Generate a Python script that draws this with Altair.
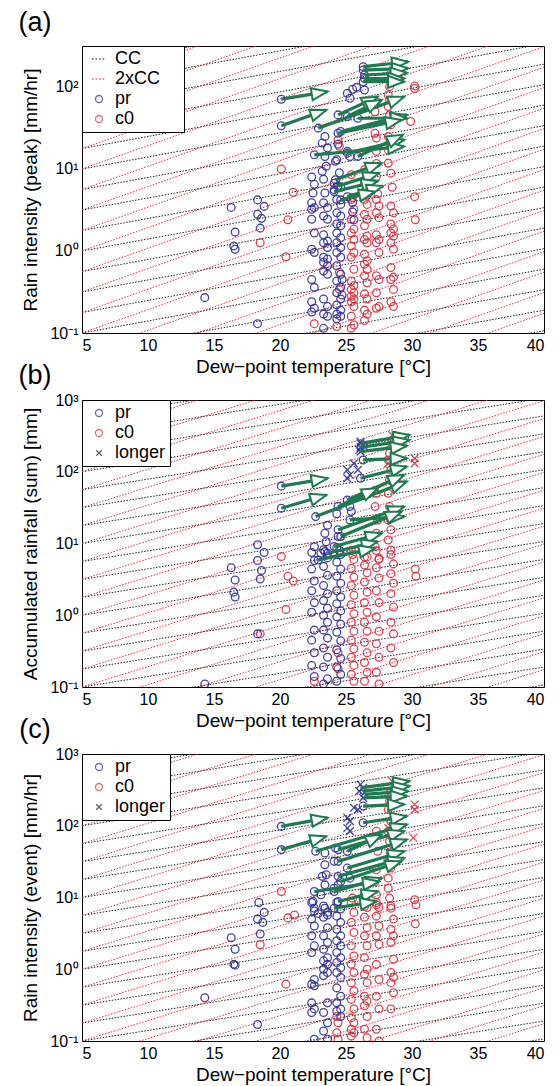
import altair as alt
import pandas as pd

FONT = "Liberation Sans"
BLUE = "#2f2f9c"
RED = "#dc2f40"
GREEN = "#1e7b4f"
BLACK = "#222222"
W, H = 462, 287

X_DOMAIN = [5, 40]
X_TICKS = [5, 10, 15, 20, 25, 30, 35, 40]
A_Y_DOMAIN = [0.1, 316.2]
BC_Y_DOMAIN = [0.1, 1000]
A_Y_TICKS = [0.1, 1, 10, 100]
BC_Y_TICKS = [0.1, 1, 10, 100, 1000]

# Clausius-Clapeyron reference lines: growth per degC, starting every 1/4 decade at 5 degC
CC_RATE = 0.07
CC2_RATE = 0.14
LINE_STEP = 0.25

# ---------------- panel (a): peak intensity ----------------
A_PR = [(14.3, 0.27), (16.3, 3.4), (16.6, 1.7), (16.5, 1.15), (16.6, 1.05), (18.3, 4.2), (18.8, 3.5),
        (18.3, 2.8), (18.6, 2.5), (18.5, 1.9), (18.3, 0.13), (20.1, 71), (20.1, 33.6),
        (26.3, 177), (26.3, 161), (26.4, 140), (26.4, 127), (26.3, 116), (25.1, 84), (25.3, 73),
        (25.5, 94), (25.8, 99), (26.4, 92), (24.4, 45.7), (25.1, 43.6), (22.9, 31.5), (24.6, 28.7),
        (25.9, 41.6), (24.4, 27.3), (23.4, 24.9), (23.2, 20.7), (25.1, 15.6), (22.6, 14.9), (25.9, 14.2),
        (23.4, 14.2), (23.5, 10.8), (23.2, 9.4), (24.2, 12.4), (24.3, 13), (24.2, 7.4), (24.4, 6.2),
        (24.1, 5.3), (25.1, 4.6), (24.6, 4.2), (22.5, 5.1), (23.4, 5.1), (24.1, 6.7), (24.1, 5.6),
        (25.1, 16.4), (25.3, 14.2), (23.6, 18), (24.4, 20), (22.4, 8), (24.5, 9), (23.3, 7.5),
        (24.6, 6), (22.6, 6.5), (24.7, 0.45), (24.7, 0.29), (25.5, 3.9), (25.5, 3.0), (25.6, 2.4)]
A_PR_COLS = {
    22.4: [3.87, 3.23, 2.44, 1.05, 0.45, 0.24, 0.18],
    22.6: [3.38, 1.66, 0.96, 0.36, 0.20],
    23.3: [3.87, 2.67, 1.58, 1.26, 0.84, 0.73, 0.57, 0.26, 0.17, 0.114],
    23.6: [3.38, 2.44, 1.32, 1.10, 0.80, 0.66, 0.52, 0.21, 0.16],
    24.3: [4.24, 2.92, 2.13, 1.66, 1.26, 0.96, 0.66, 0.43, 0.31, 0.22, 0.17, 0.149],
    24.6: [3.70, 2.67, 2.03, 1.45, 1.10, 0.84, 0.52, 0.36, 0.26, 0.19, 0.16],
}
A_C0 = [(20.6, 2.4), (18.5, 1.26), (20.45, 0.85), (30.25, 2.4), (22.6, 0.13), (24.3, 0.12), (24.5, 0.55),
        (24.5, 0.34), (20.1, 10), (21.0, 5.2),
        (28.7, 185), (30.2, 103), (30.2, 96), (28.3, 101), (28.2, 80), (28.3, 69.5), (27.3, 66), (27.2, 50),
        (28.2, 57.7), (28.3, 45.7), (28.4, 34.5), (28.2, 24.9), (27.2, 27.3), (27.3, 23.8), (29.9, 37.9),
        (28.2, 17.1), (28.2, 11.8), (28.4, 8.9), (27.3, 16.4), (27.3, 11.7), (27.3, 8.1), (26.4, 9.8),
        (26.4, 6.7), (30.2, 4.6), (24.4, 22.7), (24.5, 18.9), (25.4, 8.5), (26.5, 5.5), (27.4, 5.0),
        (28.5, 6.0), (25.5, 4.5), (26.6, 4.8)]
A_C0_COLS = {
    25.4: [4.24, 2.44, 1.66, 1.15, 0.84, 0.43, 0.34, 0.28, 0.24, 0.16, 0.114],
    25.6: [3.23, 1.85, 1.38, 0.96, 0.60, 0.38, 0.31, 0.26, 0.21, 0.125],
    26.4: [4.24, 2.79, 2.03, 1.38, 0.91, 0.69, 0.50, 0.30, 0.19, 0.142],
    26.6: [3.70, 2.44, 1.52, 1.26, 0.76, 0.60, 0.41, 0.26, 0.17],
    27.3: [4.24, 2.92, 1.58, 1.26, 0.50, 0.31, 0.20],
    27.5: [3.54, 2.55, 1.38, 0.96, 0.45, 0.21],
    28.4: [3.54, 2.13, 1.66, 1.26, 0.63, 0.45, 0.24],
    28.6: [2.92, 1.85, 1.52, 1.05, 0.48, 0.34, 0.21],
}
A_ARROWS = [(26.3, 177, 29.7, 203), (26.3, 161, 29.7, 169), (26.4, 140, 29.6, 149), (26.4, 127, 29.4, 127),
            (26.3, 116, 29.4, 116), (24.4, 45.7, 27.4, 76), (25.1, 43.6, 27.7, 69.5), (22.9, 31.5, 29.4, 76),
            (24.6, 28.7, 29.6, 45.7), (25.9, 41.6, 29.6, 41.6), (24.4, 27.3, 29.2, 39.7),
            (25.1, 15.6, 29.4, 22.7), (22.6, 14.9, 29.4, 18.8), (25.9, 14.2, 29.3, 26.1),
            (24.2, 7.4, 27.7, 11.8), (24.4, 6.2, 27.5, 8.9), (24.1, 5.3, 27.4, 7.1), (25.1, 4.6, 27.8, 6.2),
            (24.6, 4.2, 27.2, 5.3), (20.1, 71, 23.6, 88), (20.1, 33.6, 23.5, 52.5)]

# ---------------- panel (b): accumulated rainfall ----------------
B_PR = [(14.3, 0.11), (16.3, 4.6), (16.6, 3.1), (16.5, 2.1), (16.6, 1.8), (18.3, 9.6), (18.8, 7.5),
        (18.3, 5.8), (18.6, 4.2), (18.5, 3.2), (18.3, 0.55), (20.1, 63), (20.1, 31),
        (26.3, 146), (26.1, 81), (22.7, 23.7), (24.4, 32.7), (25.1, 40.5), (25.3, 32.7), (25.4, 27.9),
        (25.3, 21.3), (24.4, 15.5), (23.4, 13.9), (23.5, 10.6), (23.1, 7.3), (23.4, 7.7), (24.4, 12.5),
        (22.6, 9), (24.5, 8), (23.6, 18), (24.3, 26), (24.6, 12.5), (24.1, 9.1), (23.6, 7.3), (22.9, 5.9)]
B_PR_COLS = {
    22.4: [7.5, 4.4, 2.2, 1.1, 0.45, 0.2],
    22.6: [5.8, 3.0, 1.5, 0.62, 0.3, 0.14],
    23.3: [8.2, 4.8, 2.6, 1.6, 1.0, 0.62, 0.35, 0.19, 0.11],
    23.6: [6.3, 3.6, 2.0, 1.25, 0.8, 0.48, 0.26, 0.13],
    24.3: [8.8, 5.5, 3.5, 2.2, 1.45, 0.95, 0.58, 0.33, 0.19, 0.12],
    24.6: [7.0, 4.4, 2.8, 1.8, 1.15, 0.75, 0.44, 0.25, 0.15],
}
B_C0 = [(18.5, 0.55), (20.6, 3.5), (20.45, 1.2), (30.25, 4.4), (30.3, 3.5), (24.4, 0.3), (24.4, 0.18),
        (22.6, 0.12), (20.1, 6.6), (21.0, 3.0),
        (28.3, 181), (28.2, 146), (28.4, 106), (28.3, 77), (28.2, 50), (27.3, 50), (27.2, 32.7), (28.3, 32.7),
        (28.2, 21.3), (28.4, 15.5), (27.4, 21.3), (27.3, 13.9), (28.2, 11.2), (27.2, 9.1), (28.4, 8.1),
        (26.5, 9), (26.4, 6.5), (27.5, 6), (25.5, 7)]
B_C0_COLS = {
    25.4: [8.0, 4.5, 2.6, 1.4, 0.8, 0.45, 0.26, 0.15],
    25.6: [6.0, 3.4, 1.9, 1.05, 0.6, 0.34, 0.2, 0.12],
    26.4: [8.5, 5.0, 2.9, 1.5, 0.8, 0.42, 0.22, 0.12],
    26.6: [6.5, 3.9, 2.1, 1.1, 0.6, 0.3, 0.16],
    27.3: [8.0, 4.6, 2.2, 0.95, 0.4, 0.16],
    27.5: [6.2, 3.3, 1.5, 0.6, 0.26, 0.11],
    28.4: [7.0, 3.8, 2.0, 0.8, 0.35],
    28.6: [5.2, 2.8, 1.3, 0.55, 0.22],
}
B_LONG_PR = [(26.1, 263), (26.4, 224), (26.0, 201), (25.6, 131), (25.1, 106), (25.3, 90), (25.1, 81),
             (25.9, 106), (26.1, 249), (26.1, 219), (26.1, 191)]
B_LONG_C0 = [(28.5, 325), (30.2, 154), (30.2, 131), (28.2, 131), (28.4, 249), (27.3, 56)]
B_ARROWS = [(26.1, 249, 29.8, 325), (26.1, 219, 29.8, 277), (26.1, 191, 29.6, 229), (26.3, 146, 29.6, 154),
            (26.1, 81, 29.6, 118), (20.1, 63, 23.6, 81), (20.1, 31, 23.5, 47.5), (22.7, 23.7, 29.6, 73),
            (24.4, 32.7, 27.4, 59), (25.1, 40.5, 29.4, 90), (24.4, 15.5, 29.4, 32.7),
            (25.3, 21.3, 29.4, 23.7), (24.6, 12.5, 29.2, 27.9), (24.1, 9.1, 27.7, 13.9),
            (23.6, 7.3, 27.4, 10.6), (22.9, 5.9, 27.2, 8.6)]

# ---------------- panel (c): event intensity ----------------
C_PR = [(16.3, 2.75), (16.6, 1.9), (16.5, 1.17), (16.6, 1.14), (14.3, 0.40), (18.3, 0.17), (18.4, 8.5),
        (18.8, 6.2), (18.3, 5.0), (18.7, 4.5), (18.5, 3.1), (20.1, 98), (20.1, 46.5),
        (26.3, 188), (26.3, 110), (22.7, 44), (23.4, 41.7), (24.2, 49), (24.4, 46.5), (24.1, 31.9),
        (23.4, 28.6), (23.5, 20.8), (23.2, 19.7), (23.4, 15.0), (24.1, 13.5), (24.4, 15.0), (23.1, 10.9),
        (22.5, 8.8), (22.6, 7.1), (22.9, 6.0), (23.4, 7.1), (23.6, 5.7), (24.4, 19.7), (25.1, 25.7),
        (25.3, 18.6), (25.1, 44), (24.4, 31.9), (24.6, 16.7), (24.1, 12.1), (22.6, 12.1), (24.4, 8.8),
        (24.1, 7.1)]
C_PR_COLS = {
    22.4: [8.5, 5.0, 2.92, 1.71, 0.62, 0.34, 0.25],
    22.6: [6.5, 4.0, 2.12, 0.72, 0.59, 0.28, 0.106],
    23.3: [7.6, 5.3, 2.92, 1.90, 1.31, 1.0, 0.81, 0.25, 0.138],
    23.6: [6.2, 3.8, 2.36, 1.45, 1.17, 0.90, 0.34, 0.18, 0.106],
    24.3: [8.5, 5.5, 3.6, 2.49, 1.71, 1.24, 0.90, 0.55, 0.34, 0.26],
    24.6: [6.9, 4.5, 2.92, 2.12, 1.45, 1.05, 0.77, 0.42, 0.28, 0.22],
}
C_C0 = [(20.6, 5.2), (18.5, 2.2), (20.45, 0.62), (30.25, 4.3), (24.3, 0.22), (24.4, 0.18), (24.3, 0.13),
        (24.4, 0.106),
        (28.3, 220), (28.2, 168), (28.4, 116), (27.3, 84), (28.2, 84), (28.3, 61), (27.4, 44), (28.2, 31.9),
        (28.4, 25.7), (27.3, 24.4), (27.2, 16.7), (28.2, 18.6), (27.3, 10.9), (28.2, 13.5), (28.3, 9.8),
        (28.4, 7.1), (27.3, 7.9), (26.4, 10.9), (26.4, 7.5), (25.5, 9.8), (30.2, 9.3), (30.3, 7.9),
        (20.1, 12.1), (21.1, 5.7)]
C_C0_COLS = {
    25.4: [8.5, 4.5, 2.12, 1.17, 0.65, 0.38, 0.21, 0.146, 0.117],
    25.6: [6.2, 3.25, 1.53, 0.90, 0.50, 0.28, 0.18, 0.13],
    26.4: [8.5, 5.3, 2.92, 1.45, 0.85, 0.42, 0.31, 0.146],
    26.6: [7.25, 3.8, 2.12, 1.0, 0.65, 0.36, 0.22, 0.111],
    27.3: [8.5, 5.5, 2.92, 1.17, 0.42, 0.146],
    27.5: [7.25, 4.0, 2.23, 0.72, 0.28, 0.1],
    28.4: [7.6, 3.6, 2.36, 0.90, 0.65, 0.28],
    28.6: [5.0, 2.92, 1.38, 0.77, 0.47],
}
C_LONG_PR = [(26.1, 376), (26.3, 338), (26.4, 288), (26.0, 304), (25.6, 178), (25.1, 129), (25.3, 116),
             (25.1, 93), (25.3, 84), (25.9, 168), (26.3, 245)]
C_LONG_C0 = [(28.5, 419), (30.2, 198), (30.2, 168), (28.3, 288), (28.4, 188), (28.2, 93), (30.1, 68),
             (28.4, 49), (28.3, 37.4)]
C_ARROWS = [(26.1, 338, 29.8, 419), (26.3, 304, 29.8, 357), (26.4, 273, 29.7, 304), (26.3, 245, 29.6, 259),
            (26.3, 188, 29.4, 198), (26.3, 110, 29.6, 136), (20.1, 98, 23.6, 129), (20.1, 46.5, 23.5, 71),
            (22.7, 44, 29.6, 104), (24.4, 46.5, 29.4, 84), (25.1, 44, 27.7, 75), (24.4, 31.9, 29.6, 64),
            (25.1, 25.7, 29.4, 44), (24.4, 19.7, 29.4, 35.5), (24.6, 16.7, 29.2, 31.9),
            (24.1, 12.1, 27.7, 18.6), (22.6, 12.1, 27.5, 16.7), (24.4, 8.8, 27.4, 12.1),
            (24.1, 7.1, 27.3, 8.8)]

DOT_LINE = "M-2,0L-1.5,0M-1,0L-0.5,0M0,0L0.5,0M1,0L1.5,0"
X_SMALL = "M-0.8,-0.8L0.8,0.8M-0.8,0.8L0.8,-0.8"
X_MARK = "M-1,-1L1,1M-1,1L1,-1"
HEAD = "M-2,-0.75L0,0L-2,0.75Z"

Y_SUP = ("datum.value < 0.5 ? '10\u207b\u00b9' : datum.value < 5 ? '10\u2070' : "
         "datum.value < 50 ? '10\u00b9' : datum.value < 500 ? '10\u00b2' : '10\u00b3'")


def points(singles, cols):
    rows = list(singles) + [(t, v) for t, vs in cols.items() for v in vs]
    return pd.DataFrame(rows, columns=["T", "v"])


def ref_lines(rate, ydomain):
    import math
    lo, hi = math.log10(ydomain[0]), math.log10(ydomain[1])
    rows = []
    k = int(math.floor((lo - 2.2) / LINE_STEP))
    while k * LINE_STEP <= hi + 0.01:
        v0 = 10 ** (k * LINE_STEP)
        rows.append({"k": k, "T": 5.0, "v": v0})
        rows.append({"k": k, "T": 40.0, "v": v0 * (1 + rate) ** 35})
        k += 1
    return pd.DataFrame(rows)


def panel(ytitle, ydomain, yticks, pr, c0, lpr, lc0, arrows, legend_names, legend_colors,
          legend_shapes, label_top, label_below, wide_legend):
    import math
    xs = alt.Scale(domain=X_DOMAIN, nice=False, zero=False)
    ys = alt.Scale(type="log", domain=ydomain, nice=False)
    xax = alt.Axis(values=X_TICKS, title="Dew\u2212point temperature [\u00b0C]", titlePadding=4)
    yax = alt.Axis(values=yticks, labelExpr=Y_SUP, title=ytitle, titlePadding=9)

    def X(f):
        return alt.X(f, type="quantitative", scale=xs, axis=xax)

    def Y(f):
        return alt.Y(f, type="quantitative", scale=ys, axis=yax)

    layers = []
    for rate, col in ((CC_RATE, BLACK), (CC2_RATE, RED)):
        layers.append(alt.Chart(ref_lines(rate, ydomain)).mark_line(
            clip=True, color=col, strokeWidth=1, strokeDash=[1.5, 1.5]).encode(
            x=X("T"), y=Y("v"), detail="k:N"))
    layers.append(alt.Chart(c0).mark_point(shape="circle", filled=False, size=60, strokeWidth=1.3,
                                           color=RED, opacity=0.9, clip=True).encode(x=X("T"), y=Y("v")))
    layers.append(alt.Chart(pr).mark_point(shape="circle", filled=False, size=60, strokeWidth=1.3,
                                           color=BLUE, opacity=0.9, clip=True).encode(x=X("T"), y=Y("v")))
    if lpr is not None:
        layers.append(alt.Chart(lc0).mark_point(shape=X_MARK, filled=False, size=60, strokeWidth=1.3,
                                                color=RED, opacity=0.9, clip=True).encode(x=X("T"), y=Y("v")))
        layers.append(alt.Chart(lpr).mark_point(shape=X_MARK, filled=False, size=60, strokeWidth=1.3,
                                                color=BLUE, opacity=0.9, clip=True).encode(x=X("T"), y=Y("v")))
    dec = math.log10(ydomain[1]) - math.log10(ydomain[0])
    arr = pd.DataFrame(arrows, columns=["T0", "v0", "T1", "v1"])
    layers.append(alt.Chart(arr).mark_rule(color=GREEN, strokeWidth=3.2, clip=True).encode(
        x=X("T0"), y=Y("v0"), x2="T1", y2="v1"))
    layers.append(alt.Chart(arr).transform_calculate(
        ang=f"(360 - atan2((log(datum.v1) - log(datum.v0)) / LN10 * {H} / {dec}, "
            f"(datum.T1 - datum.T0) * {W} / 35) * 180 / PI) % 360"
    ).mark_point(shape=HEAD, filled=True, fill="white", stroke=GREEN, strokeWidth=2, size=256,
                 opacity=1, clip=True).encode(
        x=X("T1"), y=Y("v1"), angle=alt.Angle("ang:Q", scale=None)))

    leg_kwargs = dict(orient="top-left", offset=0, padding=4, strokeColor="black",
                      fillColor="white", labelFont=FONT, labelFontSize=18, symbolSize=49,
                      symbolStrokeWidth=1.3, rowPadding=2, labelOffset=7, symbolOffset=4,
                      labelColor="black")
    if wide_legend:
        # invisible spacer title to the right widens the box as in the reference
        leg_kwargs.update(title="xx", titleOrient="right", titleFontSize=16, titleOpacity=0,
                          titlePadding=2)
    else:
        leg_kwargs["title"] = None
    leg = alt.Legend(**leg_kwargs)
    ldf = pd.DataFrame({"series": legend_names})
    layers.append(alt.Chart(ldf).mark_point(filled=False, size=49, strokeWidth=1.3, clip=True).encode(
        x=alt.value(-300), y=alt.value(-300),
        color=alt.Color("series:N", scale=alt.Scale(domain=legend_names, range=legend_colors), legend=leg),
        shape=alt.Shape("series:N", scale=alt.Scale(domain=legend_names, range=legend_shapes), legend=leg)))

    if label_top:
        layers.append(alt.Chart(pd.DataFrame({"lab": [label_top]})).mark_text(
            font=FONT, fontSize=27, align="center", baseline="middle", color="black").encode(
            x=alt.value(-47), y=alt.value(-23), text="lab:N"))
    if label_below:
        layers.append(alt.Chart(pd.DataFrame({"lab": [label_below]})).mark_text(
            font=FONT, fontSize=27, align="center", baseline="middle", color="black").encode(
            x=alt.value(-47), y=alt.value(H + 43), text="lab:N"))
    return alt.layer(*layers).properties(width=W, height=H)


pa = panel("Rain intensity (peak) [mm/hr]", A_Y_DOMAIN, A_Y_TICKS,
           points(A_PR, A_PR_COLS), points(A_C0, A_C0_COLS), None, None, A_ARROWS,
           ["CC", "2xCC", "pr", "c0"], [BLACK, RED, BLUE, RED], [DOT_LINE, DOT_LINE, "circle", "circle"],
           "(a)", "(b)", True)
pb = panel("Accumulated rainfall (sum) [mm]", BC_Y_DOMAIN, BC_Y_TICKS,
           points(B_PR, B_PR_COLS), points(B_C0, B_C0_COLS),
           pd.DataFrame(B_LONG_PR, columns=["T", "v"]), pd.DataFrame(B_LONG_C0, columns=["T", "v"]),
           B_ARROWS, ["pr", "c0", "longer"], [BLUE, RED, BLACK], ["circle", "circle", X_SMALL],
           None, "(c)", False)
pc = panel("Rain intensity (event) [mm/hr]", BC_Y_DOMAIN, BC_Y_TICKS,
           points(C_PR, C_PR_COLS), points(C_C0, C_C0_COLS),
           pd.DataFrame(C_LONG_PR, columns=["T", "v"]), pd.DataFrame(C_LONG_C0, columns=["T", "v"]),
           C_ARROWS, ["pr", "c0", "longer"], [BLUE, RED, BLACK], ["circle", "circle", X_SMALL],
           None, None, False)

chart = alt.vconcat(pa, pb, pc, spacing=1).resolve_scale(color="independent", shape="independent").properties(
    padding={"left": 18, "top": 8, "right": 5, "bottom": 0}, background="white"
).configure_view(stroke="black", strokeWidth=1).configure_axis(
    labelFont=FONT, titleFont=FONT, labelFontSize=16, titleFontSize=19, titleFontWeight="normal",
    labelColor="black", titleColor="black", grid=False, domain=False, ticks=False, labelPadding=4
)

chart.save("out.html", embed_options={"renderer": "svg", "actions": False})
